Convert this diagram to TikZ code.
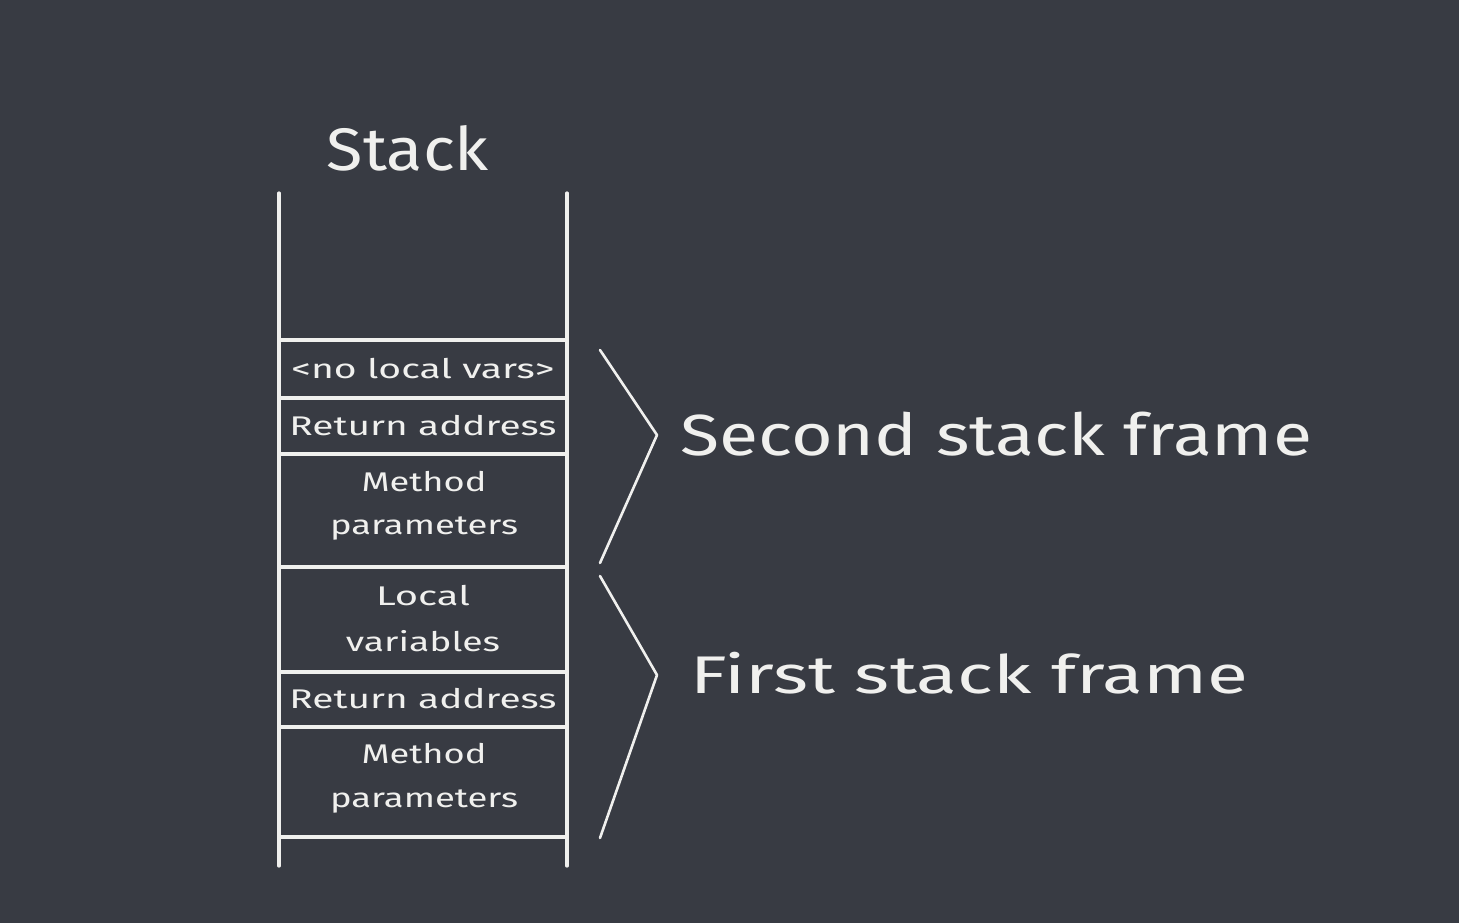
\documentclass[tikz,border=0pt]{standalone}
\usepackage{fontspec}
\usepackage{graphicx}
\setmainfont{Fira Sans}
\definecolor{board}{RGB}{56,59,67}
\definecolor{chalk}{RGB}{240,240,238}
\newcommand{\hw}[2]{\resizebox{#1}{\height}{#2}}
\tikzset{
  chalkline/.style={draw=chalk, line width=3.2pt, line cap=round, line join=round},
  celltext/.style={text=chalk, font=\fontsize{27}{30}\selectfont, inner sep=0pt, anchor=center},
  bigtext/.style={text=chalk, inner sep=0pt, anchor=base west},
}
\begin{document}
\begin{tikzpicture}[x=1pt,y=-1pt]
\fill[board] (0,0) rectangle (1459,923);
\useasboundingbox (0,0) rectangle (1459,923);
% title
\node[text=chalk, font=\fontsize{60}{64}\selectfont, inner sep=0pt, anchor=base] (title) at (408,171) {\hw{162pt}{Stack}};
% stack frame lines
\draw[chalkline] (279,193) -- (279,866);
\draw[chalkline] (567,193) -- (567,866);
\foreach \y in {340,398,454,567,672,727,837}
  \draw[chalkline] (279,\y) -- (567,\y);
% cells
\node[celltext] (nolocal) at (423,369) {\hw{263pt}{<no local vars>}};
\node[celltext] (ret2) at (423,426) {\hw{267pt}{Return address}};
\node[celltext] (meth2a) at (424,482) {\hw{125pt}{Method}};
\node[celltext] (meth2b) at (424,529) {\hw{188pt}{parameters}};
\node[celltext] (loc1a) at (423,596) {\hw{94pt}{Local}};
\node[celltext] (loc1b) at (423,641) {\hw{154pt}{variables}};
\node[celltext] (ret1) at (423,699) {\hw{267pt}{Return address}};
\node[celltext] (meth1a) at (424,754) {\hw{125pt}{Method}};
\node[celltext] (meth1b) at (424,801) {\hw{188pt}{parameters}};
% brackets
\coordinate (b2t) at (600,350);
\coordinate (b2m) at (657,435);
\coordinate (b2b) at (600,563);
\coordinate (b1t) at (600,576);
\coordinate (b1m) at (657,675);
\coordinate (b1b) at (600,838);
\draw[chalkline, line width=2.6pt] (b2t) -- (b2m) -- (b2b);
\draw[chalkline, line width=2.6pt] (b1t) -- (b1m) -- (b1b);
% labels
\node[bigtext, font=\fontsize{58}{62}\selectfont] (second) at (680,455) {\hw{632pt}{Second stack frame}};
\node[bigtext, font=\fontsize{53}{58}\selectfont] (first) at (690,693) {\hw{558pt}{First stack frame}};
\end{tikzpicture}
\end{document}
